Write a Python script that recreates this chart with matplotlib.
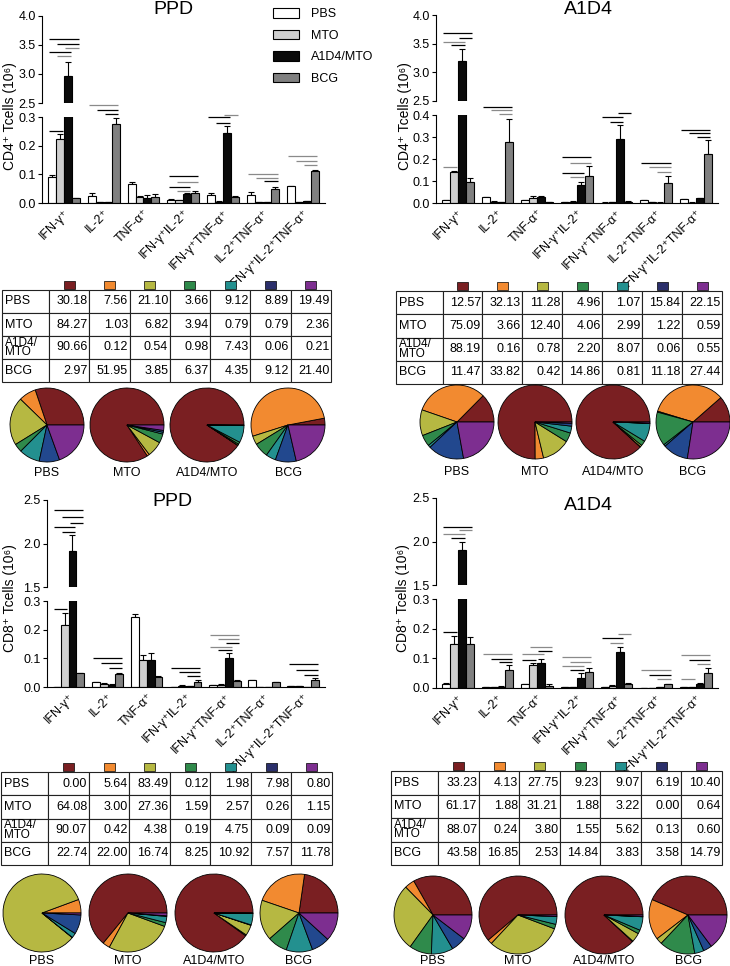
import numpy as np
import matplotlib
matplotlib.use("Agg")
import matplotlib.pyplot as plt
from matplotlib.patches import Rectangle, Patch

plt.rcParams['font.family'] = ['Liberation Sans', 'DejaVu Sans']

# ---------------- data ----------------
categories = ['IFN-γ⁺', 'IL-2⁺', 'TNF-α⁺', 'IFN-γ⁺IL-2⁺', 'IFN-γ⁺TNF-α⁺',
              'IL-2⁺TNF-α⁺', 'IFN-γ⁺IL-2⁺TNF-α⁺']
groups = ['PBS', 'MTO', 'A1D4/MTO', 'BCG']
table_rows = ['PBS', 'MTO', 'A1D4/\nMTO', 'BCG']

# bar means (rows = groups), 10^6 cells
cd4_ppd_mean = [[0.092, 0.025, 0.065, 0.011, 0.028, 0.028, 0.060],
                [0.225, 0.003, 0.022, 0.009, 0.005, 0.002, 0.003],
                [2.96, 0.004, 0.018, 0.033, 0.245, 0.002, 0.006],
                [0.016, 0.275, 0.022, 0.035, 0.022, 0.050, 0.113]]
cd4_ppd_sem = [[0.007, 0.010, 0.007, 0.002, 0.006, 0.009, 0.001],
               [0.017, 0.001, 0.003, 0.002, 0.001, 0.001, 0.001],
               [0.24, 0.001, 0.010, 0.003, 0.025, 0.001, 0.002],
               [0.003, 0.020, 0.010, 0.007, 0.003, 0.006, 0.002]]

cd4_a1d4_mean = [[0.012, 0.027, 0.012, 0.003, 0.002, 0.013, 0.018],
                 [0.142, 0.006, 0.022, 0.006, 0.005, 0.003, 0.002],
                 [3.20, 0.005, 0.027, 0.080, 0.293, 0.002, 0.022],
                 [0.095, 0.278, 0.005, 0.122, 0.006, 0.093, 0.225]]
cd4_a1d4_sem = [[0.003, 0.002, 0.003, 0.001, 0.001, 0.001, 0.001],
                [0.003, 0.001, 0.010, 0.001, 0.001, 0.001, 0.001],
                [0.20, 0.001, 0.005, 0.017, 0.062, 0.001, 0.003],
                [0.019, 0.104, 0.001, 0.046, 0.002, 0.031, 0.062]]

cd8_ppd_mean = [[0.000, 0.017, 0.243, 0.001, 0.006, 0.023, 0.002],
                [0.215, 0.011, 0.093, 0.005, 0.008, 0.001, 0.003],
                [1.91, 0.008, 0.093, 0.004, 0.102, 0.001, 0.001],
                [0.048, 0.046, 0.035, 0.017, 0.022, 0.016, 0.025]]
cd8_ppd_sem = [[0.000, 0.002, 0.013, 0.000, 0.001, 0.002, 0.000],
               [0.042, 0.002, 0.017, 0.001, 0.001, 0.000, 0.001],
               [0.19, 0.001, 0.024, 0.001, 0.016, 0.000, 0.000],
               [0.002, 0.003, 0.005, 0.006, 0.002, 0.001, 0.005]]

cd8_a1d4_mean = [[0.013, 0.002, 0.012, 0.002, 0.002, 0.001, 0.002],
                 [0.150, 0.004, 0.077, 0.004, 0.007, 0.001, 0.002],
                 [1.905, 0.005, 0.083, 0.035, 0.123, 0.002, 0.012],
                 [0.150, 0.060, 0.008, 0.053, 0.013, 0.012, 0.052]]
cd8_a1d4_sem = [[0.005, 0.000, 0.001, 0.000, 0.000, 0.000, 0.000],
                [0.025, 0.001, 0.006, 0.001, 0.003, 0.000, 0.000],
                [0.085, 0.001, 0.014, 0.014, 0.015, 0.000, 0.005],
                [0.022, 0.017, 0.007, 0.014, 0.003, 0.002, 0.014]]

# percentage tables (rows = groups, cols = cytokine subsets)
cd4_ppd_pct = [[30.18, 7.56, 21.10, 3.66, 9.12, 8.89, 19.49],
               [84.27, 1.03, 6.82, 3.94, 0.79, 0.79, 2.36],
               [90.66, 0.12, 0.54, 0.98, 7.43, 0.06, 0.21],
               [2.97, 51.95, 3.85, 6.37, 4.35, 9.12, 21.40]]
cd4_a1d4_pct = [[12.57, 32.13, 11.28, 4.96, 1.07, 15.84, 22.15],
                [75.09, 3.66, 12.40, 4.06, 2.99, 1.22, 0.59],
                [88.19, 0.16, 0.78, 2.20, 8.07, 0.06, 0.55],
                [11.47, 33.82, 0.42, 14.86, 0.81, 11.18, 27.44]]
cd8_ppd_pct = [[0.00, 5.64, 83.49, 0.12, 1.98, 7.98, 0.80],
               [64.08, 3.00, 27.36, 1.59, 2.57, 0.26, 1.15],
               [90.07, 0.42, 4.38, 0.19, 4.75, 0.09, 0.09],
               [22.74, 22.00, 16.74, 8.25, 10.92, 7.57, 11.78]]
cd8_a1d4_pct = [[33.23, 4.13, 27.75, 9.23, 9.07, 6.19, 10.40],
                [61.17, 1.88, 31.21, 1.88, 3.22, 0.00, 0.64],
                [88.07, 0.24, 3.80, 1.55, 5.62, 0.13, 0.60],
                [43.58, 16.85, 2.53, 14.84, 3.83, 3.58, 14.79]]

# significance bars: (category, bar i, bar j, y, colour, axis part)
cd4_ppd_sig = [(0, 0, 3, 3.60, 'k', 'u'), (0, 1, 3, 3.52, 'k', 'u'), (0, 2, 3, 3.44, 'g', 'u'),
               (0, 0, 2, 3.37, 'k', 'u'), (0, 1, 2, 3.30, 'g', 'u'), (0, 0, 1, 0.251, 'k', 'l'),
               (1, 0, 3, 0.341, 'g', 'l'), (1, 1, 3, 0.323, 'k', 'l'), (1, 2, 3, 0.309, 'k', 'l'),
               (3, 0, 3, 0.093, 'k', 'l'), (3, 1, 3, 0.073, 'g', 'l'), (3, 0, 2, 0.056, 'k', 'l'),
               (3, 1, 2, 0.042, 'g', 'l'),
               (4, 0, 2, 0.300, 'k', 'l'), (4, 2, 3, 0.306, 'g', 'l'), (4, 1, 2, 0.280, 'k', 'l'),
               (5, 0, 3, 0.102, 'g', 'l'), (5, 1, 3, 0.088, 'g', 'l'), (5, 2, 3, 0.076, 'k', 'l'),
               (6, 0, 3, 0.163, 'g', 'l'), (6, 1, 3, 0.147, 'g', 'l'), (6, 2, 3, 0.131, 'g', 'l')]
cd4_a1d4_sig = [(0, 0, 3, 3.68, 'k', 'u'), (0, 2, 3, 3.59, 'k', 'u'), (0, 0, 2, 3.53, 'g', 'u'),
                (0, 1, 2, 3.47, 'k', 'u'), (0, 0, 1, 0.163, 'g', 'l'),
                (1, 0, 3, 0.438, 'k', 'l'), (1, 1, 3, 0.423, 'g', 'l'), (1, 2, 3, 0.405, 'g', 'l'),
                (3, 0, 3, 0.210, 'k', 'l'), (3, 1, 3, 0.184, 'g', 'l'), (3, 0, 2, 0.136, 'k', 'l'),
                (3, 1, 2, 0.118, 'g', 'l'),
                (4, 0, 2, 0.390, 'k', 'l'), (4, 2, 3, 0.408, 'k', 'l'), (4, 1, 2, 0.370, 'k', 'l'),
                (5, 0, 3, 0.181, 'k', 'l'), (5, 1, 3, 0.162, 'g', 'l'), (5, 2, 3, 0.142, 'g', 'l'),
                (6, 0, 3, 0.332, 'k', 'l'), (6, 1, 3, 0.317, 'k', 'l'), (6, 2, 3, 0.299, 'k', 'l')]
cd8_ppd_sig = [(0, 0, 3, 2.38, 'k', 'u'), (0, 1, 3, 2.31, 'k', 'u'), (0, 2, 3, 2.24, 'k', 'u'),
               (0, 0, 2, 2.185, 'k', 'u'), (0, 1, 2, 2.13, 'k', 'u'), (0, 0, 1, 0.273, 'k', 'l'),
               (1, 0, 3, 0.100, 'k', 'l'), (1, 1, 3, 0.083, 'k', 'l'), (1, 2, 3, 0.066, 'k', 'l'),
               (3, 0, 3, 0.066, 'k', 'l'), (3, 1, 3, 0.051, 'k', 'l'), (3, 2, 3, 0.037, 'k', 'l'),
               (4, 0, 3, 0.183, 'g', 'l'), (4, 1, 3, 0.168, 'g', 'l'), (4, 2, 3, 0.152, 'k', 'l'),
               (4, 0, 2, 0.141, 'g', 'l'), (4, 1, 2, 0.129, 'k', 'l'),
               (6, 0, 3, 0.080, 'k', 'l'), (6, 1, 3, 0.058, 'k', 'l'), (6, 2, 3, 0.043, 'k', 'l')]
cd8_a1d4_sig = [(0, 0, 3, 2.165, 'k', 'u'), (0, 2, 3, 2.127, 'g', 'u'), (0, 0, 2, 2.09, 'g', 'u'),
                (0, 1, 2, 2.04, 'k', 'u'), (0, 0, 1, 0.190, 'k', 'l'),
                (1, 0, 3, 0.113, 'g', 'l'), (1, 1, 3, 0.098, 'k', 'l'), (1, 2, 3, 0.086, 'k', 'l'),
                (2, 1, 3, 0.139, 'g', 'l'), (2, 2, 3, 0.125, 'k', 'l'), (2, 0, 2, 0.113, 'g', 'l'),
                (2, 0, 1, 0.096, 'k', 'l'),
                (3, 0, 3, 0.103, 'g', 'l'), (3, 1, 3, 0.088, 'g', 'l'), (3, 0, 2, 0.073, 'g', 'l'),
                (3, 1, 2, 0.060, 'k', 'l'),
                (4, 0, 2, 0.168, 'k', 'l'), (4, 2, 3, 0.182, 'g', 'l'), (4, 1, 2, 0.153, 'g', 'l'),
                (5, 0, 3, 0.060, 'g', 'l'), (5, 1, 3, 0.045, 'k', 'l'), (5, 2, 3, 0.029, 'g', 'l'),
                (6, 0, 3, 0.110, 'g', 'l'), (6, 1, 3, 0.094, 'k', 'l'), (6, 2, 3, 0.080, 'g', 'l'),
                (6, 0, 1, 0.029, 'g', 'l')]

bar_colors = ['white', '#cfcfcf', '#0a0a0a', '#808080']
pie_colors = ['#7a1f22', '#f28a30', '#b6b842', '#2f8a4b', '#23908f', '#22488e', '#7d2e90']
square_colors = ['#7a1f22', '#f28a30', '#b6b842', '#2f8a4b', '#23908f', '#2b2f6b', '#7d2e90']
sig_colors = {'k': 'black', 'g': '#8a8a8a'}

W, H = 730, 966
fig = plt.figure(figsize=(W / 100, H / 100), dpi=100)


def px_axes(x, y, w, h):
    return fig.add_axes([x / W, 1 - (y + h) / H, w / W, h / H])


def bar_panel(left, right, up, low, means, sems, ulim, llim, uticks, lticks, sig,
              title, title_xy, ylab, ylab_xy):
    ax_u = px_axes(left, up[0], right - left, up[1] - up[0])
    ax_l = px_axes(left, low[0], right - left, low[1] - low[0])
    x = np.arange(len(categories))
    bw = 0.2
    for k in range(len(groups)):
        xs = x + (k - 1.5) * bw
        m = np.array(means[k])
        s = np.array(sems[k])
        for ax in (ax_u, ax_l):
            ax.bar(xs, m, bw, color=bar_colors[k], edgecolor='black', linewidth=0.8, zorder=2)
            ax.errorbar(xs, m, yerr=[np.zeros_like(s), s], fmt='none', ecolor='black',
                        elinewidth=0.8, capsize=2, capthick=0.8, zorder=1)
    for c, i, j, yv, col, part in sig:
        ax = ax_u if part == 'u' else ax_l
        x0 = c + (i - 1.5) * bw - bw * 0.35
        x1 = c + (j - 1.5) * bw + bw * 0.35
        ax.plot([x0, x1], [yv, yv], color=sig_colors[col], lw=0.9, clip_on=False,
                solid_capstyle='butt')
    for ax in (ax_u, ax_l):
        ax.set_xlim(-0.55, 6.56)
        for sp in ('top', 'right'):
            ax.spines[sp].set_visible(False)
        for sp in ('left', 'bottom'):
            ax.spines[sp].set_linewidth(0.8)
        ax.tick_params(axis='y', labelsize=9, length=3, width=0.8, pad=1.5)
    ax_u.set_ylim(*ulim)
    ax_u.set_yticks(uticks)
    ax_u.spines['bottom'].set_visible(False)
    ax_u.set_xticks([])
    ax_l.set_ylim(*llim)
    ax_l.set_yticks(lticks)
    ax_u.yaxis.set_major_formatter(plt.FormatStrFormatter('%.1f'))
    ax_l.yaxis.set_major_formatter(plt.FormatStrFormatter('%.1f'))
    ax_l.set_xticks(x)
    ax_l.set_xticklabels(categories, rotation=45, ha='right', rotation_mode='anchor',
                         fontsize=9)
    ax_l.tick_params(axis='x', length=0, pad=3)
    fig.text(title_xy[0] / W, 1 - title_xy[1] / H, title, ha='center', va='center', fontsize=14)
    fig.text(ylab_xy[0] / W, 1 - ylab_xy[1] / H, ylab, ha='center', va='center',
             rotation=90, fontsize=10)
    return ax_u, ax_l


def table_panel(x0, x1, y0, y1, vals):
    ax = px_axes(x0, y0, x1 - x0, y1 - y0)
    ax.axis('off')
    cell_text = [[lab] + ['%.2f' % v for v in row] for lab, row in zip(table_rows, vals)]
    lab_w = 47 / 329
    colw = [lab_w] + [(1 - lab_w) / 7] * 7
    tb = ax.table(cellText=cell_text, colWidths=colw, bbox=[0, 0, 1, 1], cellLoc='right')
    tb.auto_set_font_size(False)
    tb.set_fontsize(9)
    for (r, c), cell in tb.get_celld().items():
        cell.set_linewidth(0.8)
        cell.set_edgecolor('#222222')
        cell.PAD = 0.04
        t = cell.get_text()
        if c == 0:
            cell._loc = 'left'
            t.set_horizontalalignment('left')
            cell.PAD = 0.06
            if '\n' in t.get_text():
                t.set_fontsize(8.5)
                t.set_linespacing(0.72)
    h_ax = y1 - y0
    for k, col in enumerate(square_colors):
        xc = lab_w + (k + 0.5) * (1 - lab_w) / 7
        sw = 11 / (x1 - x0)
        ax.add_patch(Rectangle((xc - sw / 2, 1 + 1.5 / h_ax), sw, 8 / h_ax,
                               transform=ax.transAxes, clip_on=False,
                               facecolor=col, edgecolor='black', lw=0.5))


def pie_row(cxs, cy, r, vals, label_y, label_va):
    for cx, row, lab in zip(cxs, vals, groups):
        rr = r * 1.03
        ax = px_axes(cx - rr, cy - rr, 2 * rr, 2 * rr)
        ax.pie(row, colors=pie_colors, startangle=0, counterclock=True,
               wedgeprops=dict(edgecolor='black', linewidth=0.6))
        ax.set_xlim(-1.03, 1.03)
        ax.set_ylim(-1.03, 1.03)
        fig.text(cx / W, 1 - label_y / H, lab, ha='center', va=label_va, fontsize=9)


# ---- top-left: CD4 PPD ----
bar_panel(42, 325, (15.7, 103), (117, 203), cd4_ppd_mean, cd4_ppd_sem,
          (2.5, 4.0), (0, 0.3), [2.5, 3.0, 3.5, 4.0], [0, 0.1, 0.2, 0.3],
          cd4_ppd_sig, 'PPD', (173, 9), 'CD4⁺ Tcells (10⁶)', (10, 116))
table_panel(2, 331, 290, 382, cd4_ppd_pct)
pie_row([47, 127, 207, 288], 425, 37, cd4_ppd_pct, 473, 'center')

# ---- top-right: CD4 A1D4 ----
bar_panel(436, 718, (15, 100.6), (115, 203), cd4_a1d4_mean, cd4_a1d4_sem,
          (2.5, 4.0), (0, 0.4), [2.5, 3.0, 3.5, 4.0], [0, 0.1, 0.2, 0.3, 0.4],
          cd4_a1d4_sig, 'A1D4', (588, 10), 'CD4⁺ Tcells (10⁶)', (405, 116))
table_panel(396, 722, 291, 384, cd4_a1d4_pct)
pie_row([457, 535, 613, 693], 422, 37, cd4_a1d4_pct, 472, 'center')

# ---- bottom-left: CD8 PPD ----
bar_panel(47, 325, (500, 587), (601, 687), cd8_ppd_mean, cd8_ppd_sem,
          (1.5, 2.5), (0, 0.3), [1.5, 2.0, 2.5], [0, 0.1, 0.2, 0.3],
          cd8_ppd_sig, 'PPD', (172, 502), 'CD8⁺ Tcells (10⁶)', (10, 598))
table_panel(1, 332, 772, 865, cd8_ppd_pct)
pie_row([42, 128, 214, 299], 913, 39, cd8_ppd_pct, 955, 'top')

# ---- bottom-right: CD8 A1D4 ----
bar_panel(436, 718, (498, 585), (599, 688), cd8_a1d4_mean, cd8_a1d4_sem,
          (1.5, 2.5), (0, 0.3), [1.5, 2.0, 2.5], [0, 0.1, 0.2, 0.3],
          cd8_a1d4_sig, 'A1D4', (588, 505), 'CD8⁺ Tcells (10⁶)', (403, 598))
table_panel(391, 722, 771, 865, cd8_a1d4_pct)
pie_row([433, 518, 604, 688], 915, 39, cd8_a1d4_pct, 955, 'top')

# legend
handles = [Patch(facecolor=c, edgecolor='black', lw=0.8, label=g)
           for c, g in zip(bar_colors, groups)]
fig.legend(handles=handles, loc='upper left', bbox_to_anchor=(268 / W, 1 - 3 / H),
           frameon=False, fontsize=9, handlelength=2.1, handleheight=0.8,
           labelspacing=0.75, handletextpad=0.9, borderaxespad=0)

fig.savefig('out.png', dpi=100)
